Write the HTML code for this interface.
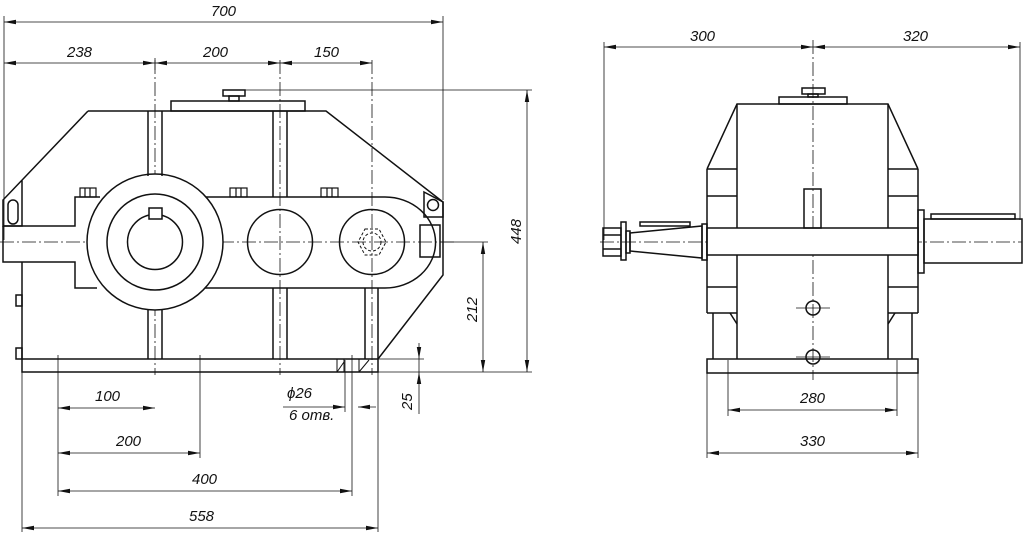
<!DOCTYPE html>
<html><head><meta charset="utf-8"><style>
html,body{margin:0;padding:0;background:#fff}
svg{display:block}
text{font-family:"Liberation Sans",sans-serif;font-style:italic;font-size:15px;fill:#111}
</style></head><body>
<svg width="1024" height="534" viewBox="0 0 1024 534" xmlns="http://www.w3.org/2000/svg">
<defs>
<marker id="a" viewBox="0 0 12 6" refX="12" refY="3" markerWidth="12" markerHeight="6" orient="auto-start-reverse" markerUnits="userSpaceOnUse"><path d="M0,0.8 L12,3 L0,5.2z" fill="#111"/></marker>
</defs>
<g stroke="#111" stroke-width="0.8" fill="none">
<g stroke-dasharray="14,3,2,3">
<line x1="0" y1="242" x2="456" y2="242"/>
<line x1="155" y1="60" x2="155" y2="375"/>
<line x1="280" y1="60" x2="280" y2="375"/>
<line x1="372" y1="60" x2="372" y2="375"/>
<line x1="600" y1="242" x2="1022" y2="242"/>
<line x1="813" y1="40" x2="813" y2="380"/>
</g>
<line x1="4" y1="16" x2="4" y2="240"/>
<line x1="443" y1="16" x2="443" y2="200"/>
<line x1="155" y1="58" x2="155" y2="70"/>
<line x1="245" y1="90" x2="532" y2="90"/>
<line x1="378" y1="372" x2="532" y2="372"/>
<line x1="440" y1="242" x2="488" y2="242"/>
<line x1="378" y1="359" x2="424" y2="359"/>
<line x1="22" y1="372" x2="22" y2="532"/>
<line x1="378" y1="372" x2="378" y2="532"/>
<line x1="58" y1="355" x2="58" y2="496"/>
<line x1="200" y1="355" x2="200" y2="458"/>
<line x1="352" y1="355" x2="352" y2="496"/>
<line x1="345" y1="360" x2="345" y2="412"/>
<line x1="604" y1="42" x2="604" y2="240"/>
<line x1="1020" y1="42" x2="1020" y2="220"/>
<line x1="728" y1="360" x2="728" y2="416"/>
<line x1="897" y1="360" x2="897" y2="416"/>
<line x1="707" y1="373" x2="707" y2="458"/>
<line x1="918" y1="373" x2="918" y2="458"/>
<line x1="796" y1="308" x2="830" y2="308"/>
<line x1="796" y1="357" x2="830" y2="357"/>
<line x1="4" y1="22" x2="443" y2="22" marker-start="url(#a)" marker-end="url(#a)"/>
<line x1="4" y1="63" x2="155" y2="63" marker-start="url(#a)" marker-end="url(#a)"/>
<line x1="155" y1="63" x2="280" y2="63" marker-start="url(#a)" marker-end="url(#a)"/>
<line x1="280" y1="63" x2="372" y2="63" marker-start="url(#a)" marker-end="url(#a)"/>
<line x1="527" y1="90" x2="527" y2="372" marker-start="url(#a)" marker-end="url(#a)"/>
<line x1="483" y1="242" x2="483" y2="372" marker-start="url(#a)" marker-end="url(#a)"/>
<line x1="419" y1="343" x2="419" y2="359" marker-end="url(#a)"/>
<line x1="419" y1="414" x2="419" y2="372" marker-end="url(#a)"/>
<line x1="419" y1="359" x2="419" y2="372"/>
<line x1="58" y1="408" x2="155" y2="408" marker-start="url(#a)" marker-end="url(#a)"/>
<line x1="58" y1="453" x2="200" y2="453" marker-start="url(#a)" marker-end="url(#a)"/>
<line x1="58" y1="491" x2="352" y2="491" marker-start="url(#a)" marker-end="url(#a)"/>
<line x1="22" y1="528" x2="378" y2="528" marker-start="url(#a)" marker-end="url(#a)"/>
<line x1="283" y1="407" x2="345" y2="407" marker-end="url(#a)"/>
<line x1="376" y1="407" x2="358" y2="407" marker-end="url(#a)"/>
<line x1="604" y1="47" x2="813" y2="47" marker-start="url(#a)" marker-end="url(#a)"/>
<line x1="813" y1="47" x2="1020" y2="47" marker-start="url(#a)" marker-end="url(#a)"/>
<line x1="728" y1="410" x2="897" y2="410" marker-start="url(#a)" marker-end="url(#a)"/>
<line x1="707" y1="453" x2="918" y2="453" marker-start="url(#a)" marker-end="url(#a)"/>
</g>
<g stroke="#111" stroke-width="1.5" fill="none">
<rect x="171" y="101" width="134" height="10"/>
<rect x="223" y="90" width="22" height="6"/><rect x="229" y="96" width="10" height="5"/>
<path d="M88,111 L326,111 L443,202 L443,275 L378,359"/>
<path d="M88,111 L3,200 L3,226 L22,226 L22,180"/>
<rect x="8" y="200" width="10" height="24" rx="5"/>
<path d="M424,192 L443,202 L443,217 L424,217 z"/>
<circle cx="433" cy="205" r="5.5"/>
<path d="M3,226 L75,226 L75,197 L100,197"/>
<path d="M3,226 L3,262 L75,262 L75,288 L97,288"/>
<path d="M205,197 L385,197 A50,45 0 0 1 385,288 L200,288"/>
<circle cx="155" cy="242" r="68" fill="#fff"/>
<circle cx="155" cy="242" r="48"/>
<circle cx="155" cy="242" r="27.5"/>
<rect x="149" y="208" width="13" height="11" fill="#fff"/>
<circle cx="280" cy="242" r="32.5"/>
<circle cx="372" cy="242" r="32.5"/>
<rect x="420" y="225" width="20" height="32"/>
<path d="M22,262 L22,359"/>
<rect x="16" y="295" width="6" height="11"/><rect x="16" y="348" width="6" height="11"/>
<rect x="22" y="359" width="356" height="13"/>
<path d="M148,111 L148,176 M162,111 L162,176 M148,310 L148,359 M162,310 L162,359"/>
<path d="M273,111 L273,197 M287,111 L287,197 M273,288 L273,359 M287,288 L287,359"/>
<path d="M365,288 L365,359 M378,288 L378,359"/>
<path d="M337,359 L337,372 M344,359 L344,372 M359,359 L359,372" stroke-width="1"/>
<path d="M337,372 L344,362 M359,372 L369,360" stroke-width="1"/>
<g stroke-width="1.2"><rect x="80" y="188" width="16" height="9"/><path d="M85,188 v9 M90,188 v9"/>
<rect x="230" y="188" width="17" height="9"/><path d="M236,188 v9 M241,188 v9"/>
<rect x="321" y="188" width="17" height="9"/><path d="M327,188 v9 M332,188 v9"/></g>
<g stroke-dasharray="3,2" stroke-width="1"><polygon points="365,229 379,229 386,242 379,255 365,255 358,242"/><circle cx="372" cy="242" r="9"/></g>
</g>
<g stroke="#111" stroke-width="1.5" fill="none">
<rect x="779" y="97" width="68" height="7"/>
<rect x="802" y="88" width="23" height="6"/><rect x="808" y="94" width="10" height="3"/>
<path d="M707,169 L737,104 L888,104 L918,169"/>
<path d="M737,104 L737,359 M888,104 L888,359"/>
<path d="M707,169 L707,313 M918,169 L918,313"/>
<path d="M707,169 H737 M707,196 H737 M707,287 H737 M707,313 H737"/>
<path d="M888,169 H918 M888,196 H918 M888,287 H918 M888,313 H918"/>
<path d="M713,313 L713,359 M730,313 L737,324 M912,313 L912,359 M895,313 L888,324"/>
<rect x="707" y="359" width="211" height="14"/>
<rect x="707" y="228" width="211" height="27" fill="#fff"/>
<rect x="804" y="189" width="17" height="39"/>
<rect x="918" y="210" width="6" height="63"/>
<rect x="924" y="219" width="98" height="44"/>
<rect x="931" y="214" width="84" height="5"/>
<polygon points="630,233 702,226 702,258 630,251"/>
<rect x="702" y="224" width="5" height="36"/>
<rect x="640" y="222" width="50" height="4"/>
<rect x="621" y="222" width="5" height="38"/>
<rect x="626" y="231" width="4" height="22"/>
<rect x="603" y="228" width="18" height="28"/>
<path d="M603,235 H621 M603,249 H621"/>
<circle cx="813" cy="308" r="7"/>
<circle cx="813" cy="357" r="7"/>
</g>
<text x="211" y="16">700</text>
<text x="67" y="57">238</text>
<text x="203" y="57">200</text>
<text x="314" y="57">150</text>
<text x="95" y="401">100</text>
<text x="116" y="446">200</text>
<text x="192" y="484">400</text>
<text x="189" y="521">558</text>
<text x="287" y="398">ϕ26</text>
<text x="289" y="420">6 отв.</text>
<text x="690" y="41">300</text>
<text x="903" y="41">320</text>
<text x="800" y="403">280</text>
<text x="800" y="446">330</text>
<text transform="translate(521,244) rotate(-90)">448</text>
<text transform="translate(477,322) rotate(-90)">212</text>
<text transform="translate(412,410) rotate(-90)">25</text>
</svg>
</body></html>
